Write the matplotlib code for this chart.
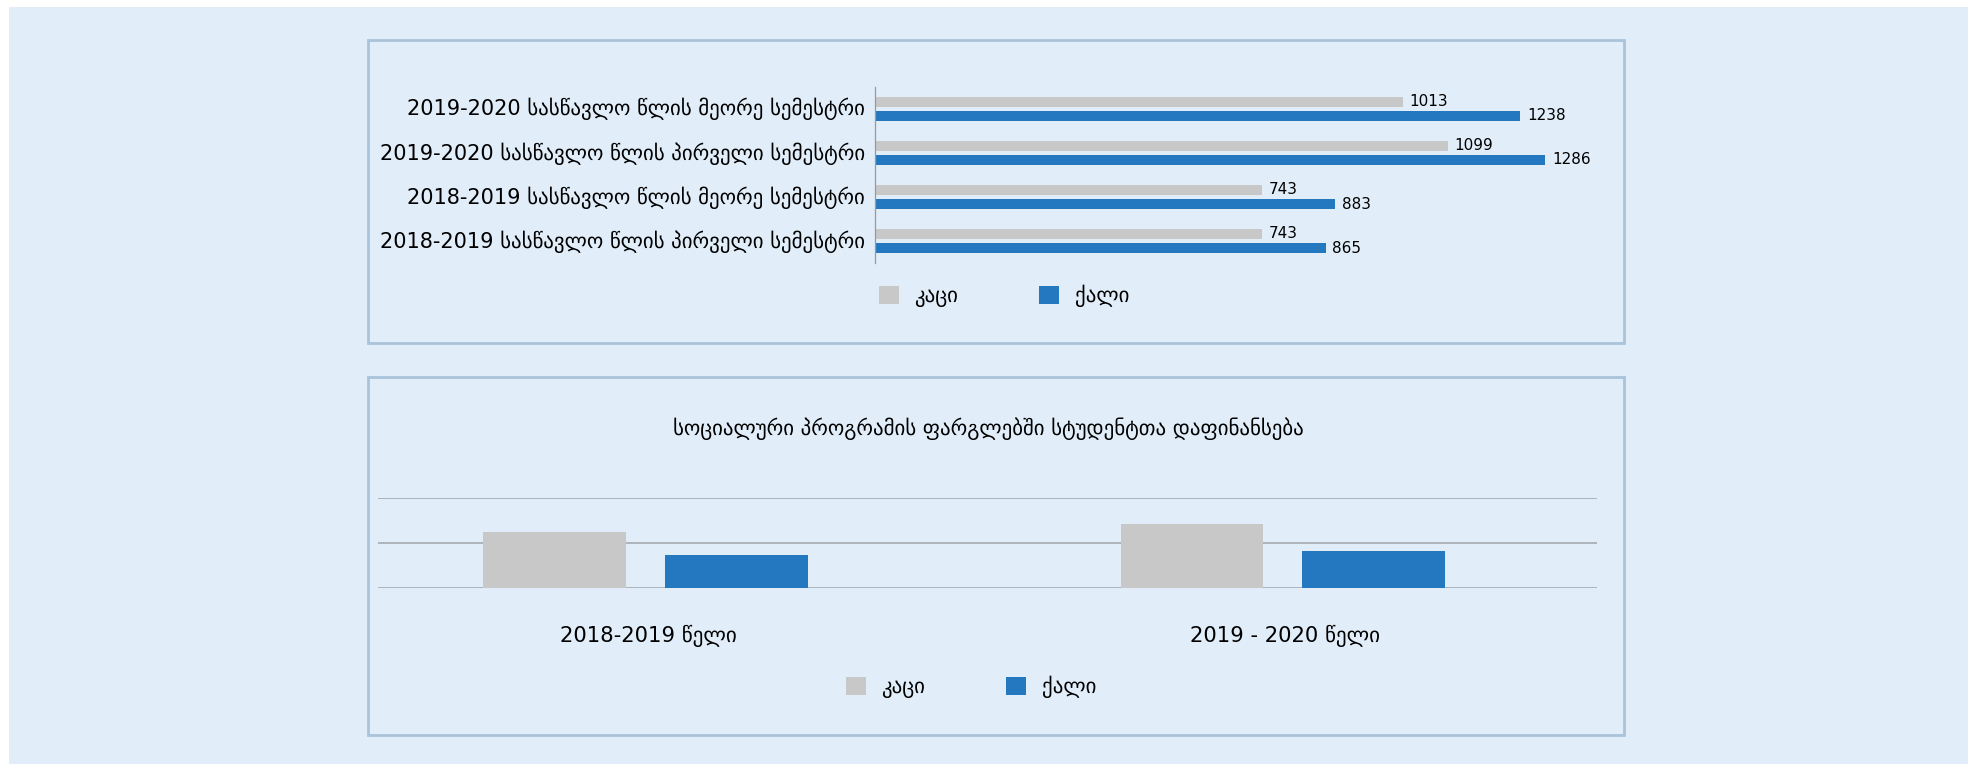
import numpy as np
import matplotlib
matplotlib.use('Agg')
import matplotlib.pyplot as plt
from matplotlib.patches import Rectangle, Patch
from matplotlib.transforms import ScaledTranslation

plt.rcParams['font.family'] = ['DejaVu Sans']

# ---- data: top chart (students per semester) ----
semesters = [
    "2018-2019 სასწავლო წლის პირველი სემესტრი",
    "2018-2019 სასწავლო წლის მეორე სემესტრი",
    "2019-2020 სასწავლო წლის პირველი სემესტრი",
    "2019-2020 სასწავლო წლის მეორე სემესტრი",
]
men_sem = [743, 743, 1099, 1013]
women_sem = [865, 883, 1286, 1238]

# ---- data: bottom chart (social programme funding, values estimated) ----
years = ["2018-2019 წელი", "2019 - 2020 წელი"]
men_year = [621, 713]
women_year = [364, 412]
bottom_title = "სოციალური პროგრამის ფარგლებში სტუდენტთა დაფინანსება"

series_names = ["კაცი", "ქალი"]
GREY = '#C8C8C8'
BLUE = '#2478C0'
BG = '#E1EDF8'
BORDER = '#A9C3DA'

W, H = 1975, 764
fig = plt.figure(figsize=(W / 100, H / 100), dpi=100)
fig.patch.set_facecolor('white')


def fx(px):
    return px / W


def fy(py):
    return 1 - py / H


# outer background and the two panel frames
fig.patches.append(Rectangle((fx(9), 0), fx(1968 - 9), 1 - 7 / H,
                             transform=fig.transFigure, facecolor=BG,
                             edgecolor='none', zorder=-10))
for top, bot in [(40, 343), (377, 735)]:
    fig.patches.append(Rectangle((fx(368), fy(bot)), fx(1624 - 368), (bot - top) / H,
                                 transform=fig.transFigure, facecolor='none',
                                 edgecolor=BORDER, lw=2.0, zorder=-5))

# ---- top: horizontal bars ----
ax1 = fig.add_axes([fx(874.5), fy(263), fx(1604.5 - 874.5), (263 - 86.7) / H])
ax1.set_facecolor('none')
y = np.arange(len(semesters))
off, h = 0.162, 0.227
b_m = ax1.barh(y + off, men_sem, height=h, color=GREY)
b_w = ax1.barh(y - off, women_sem, height=h, color=BLUE)
for bars, vals in [(b_m, men_sem), (b_w, women_sem)]:
    for b, v in zip(bars, vals):
        ax1.annotate(str(v), (v, b.get_y() + b.get_height() / 2),
                     xytext=(5, 0), textcoords='offset points',
                     va='center', ha='left', fontsize=11)
ax1.set_xlim(0, 1400)
ax1.set_ylim(-0.5, len(semesters) - 0.5)
ax1.set_yticks(y, semesters, fontsize=15)
ax1.set_xticks([])
ax1.tick_params(axis='y', length=0, pad=7)
shift_up = ScaledTranslation(0, 2 / 100, fig.dpi_scale_trans)
for lbl in ax1.get_yticklabels():
    lbl.set_transform(lbl.get_transform() + shift_up)
for s in ['top', 'right', 'bottom']:
    ax1.spines[s].set_visible(False)
ax1.spines['left'].set_color('#9A9A9A')
ax1.spines['left'].set_linewidth(0.9)

handles = [Patch(facecolor=GREY), Patch(facecolor=BLUE)]
leg_kw = dict(loc='center', ncol=2, frameon=False, fontsize=15, handlelength=0.96,
              handleheight=0.96, handletextpad=0.75, columnspacing=3.9, borderpad=0)
fig.legend(handles, series_names, bbox_to_anchor=(fx(1004), fy(296)), **leg_kw)

# ---- bottom: vertical bars ----
ax2 = fig.add_axes([fx(378), fy(588.3), fx(1597 - 378), (588.3 - 497.7) / H])
ax2.set_facecolor('none')
x = np.arange(len(years))
w, xo = 0.224, 0.1425
ax2.bar(x - xo, men_year, width=w, color=GREY, zorder=3)
ax2.bar(x + xo, women_year, width=w, color=BLUE, zorder=3)
ax2.set_xlim(-0.4198, 1.4933)
ax2.set_ylim(0, 1000)
ax2.set_yticks([0, 500, 1000])
ax2.yaxis.grid(True, color='#A0A4AA', lw=1.1, zorder=0)
ax2.tick_params(axis='y', length=0, labelleft=False)
ax2.set_xticks(x + 0.004, years, fontsize=15.2)
ax2.tick_params(axis='x', length=0, pad=26)
for s in ax2.spines.values():
    s.set_visible(False)

fig.text(fx(988.6), fy(429), bottom_title, ha='center', va='center', fontsize=15)

fig.legend(handles, series_names, bbox_to_anchor=(fx(971), fy(686.7)), **leg_kw)

fig.savefig('out.png', dpi=100)
